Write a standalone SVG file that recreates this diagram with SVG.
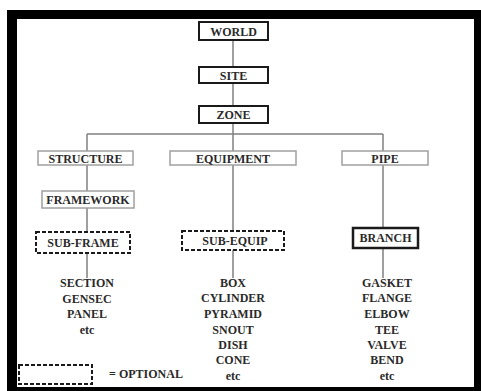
<svg xmlns="http://www.w3.org/2000/svg" width="481" height="391" viewBox="0 0 481 391">
<style>
text{font-family:"Liberation Serif","Times New Roman",serif;font-weight:bold;font-size:12px;fill:#2a2a2a;text-anchor:middle}
.top{fill:#fff;stroke:#1a1a1a;stroke-width:2}
.lite{fill:#fff;stroke:#a0a0a0;stroke-width:1.5}
.dash{fill:#fff;stroke:#1a1a1a;stroke-width:2;stroke-dasharray:4 2}
.thick{fill:#fff;stroke:#1a1a1a;stroke-width:2.5}
.con{stroke:#808080;stroke-width:1.5;fill:none}
</style>
<rect x="0" y="0" width="481" height="391" fill="#fff"/>
<rect x="7" y="10" width="474" height="381" fill="#000"/>
<rect x="17" y="19" width="457" height="368" fill="#fff"/>
<g id="connectors">
<path class="con" d="M233 40V134M87 134H383M87 134V278M233 134V278M383 134V278"/>
</g>
<g id="world"><rect class="top" x="199" y="22" width="69" height="18"/><text x="233.5" y="35.5">WORLD</text></g>
<g id="site"><rect class="top" x="199" y="67" width="69" height="16"/><text x="233.5" y="79.5">SITE</text></g>
<g id="zone"><rect class="top" x="199" y="106" width="69" height="17"/><text x="233.5" y="119">ZONE</text></g>
<g id="structure"><rect class="lite" x="38" y="151" width="95" height="14"/><text x="85.5" y="162.5">STRUCTURE</text></g>
<g id="equipment"><rect class="lite" x="170" y="151" width="126" height="14"/><text x="233" y="162.5">EQUIPMENT</text></g>
<g id="pipe"><rect class="lite" x="342" y="151" width="86" height="14"/><text x="385" y="162.5">PIPE</text></g>
<g id="framework"><rect class="lite" x="42" y="191" width="92" height="17"/><text x="88" y="204">FRAMEWORK</text></g>
<g id="subframe"><rect class="dash" x="36" y="232" width="94" height="21"/><text x="83" y="246.5">SUB-FRAME</text></g>
<g id="subequip"><rect class="dash" x="182" y="231" width="102" height="19"/><text x="235" y="244.5">SUB-EQUIP</text></g>
<g id="branch"><rect class="thick" x="353" y="228" width="65" height="20"/><text x="385.5" y="242">BRANCH</text></g>
<g id="structure-list">
<text x="87" y="287">SECTION</text>
<text x="87" y="303">GENSEC</text>
<text x="87" y="318">PANEL</text>
<text x="87" y="334">etc</text>
</g>
<g id="equipment-list">
<text x="233" y="287">BOX</text>
<text x="233" y="302">CYLINDER</text>
<text x="233" y="318">PYRAMID</text>
<text x="233" y="334">SNOUT</text>
<text x="233" y="349">DISH</text>
<text x="233" y="364">CONE</text>
<text x="233" y="380">etc</text>
</g>
<g id="pipe-list">
<text x="387" y="287">GASKET</text>
<text x="387" y="302">FLANGE</text>
<text x="387" y="318">ELBOW</text>
<text x="387" y="334">TEE</text>
<text x="387" y="349">VALVE</text>
<text x="387" y="364">BEND</text>
<text x="387" y="380">etc</text>
</g>
<g id="legend">
<rect class="dash" x="19" y="365" width="73" height="19"/>
<text x="146" y="378">= OPTIONAL</text>
</g>
</svg>
